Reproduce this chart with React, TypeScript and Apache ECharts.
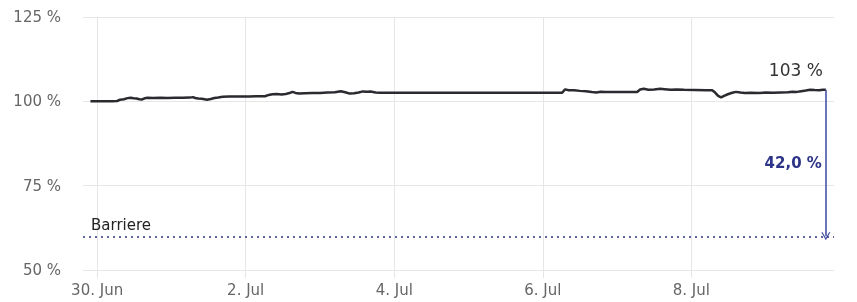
import React, { useEffect, useRef } from "react";
import * as echarts from "echarts";

// days since 30 Jun 00:00
const days = [-0.09, 0.0, 0.1, 0.2, 0.27, 0.31, 0.36, 0.41, 0.45, 0.49, 0.53, 0.57, 0.6, 0.64, 0.68, 0.75, 0.85, 0.95, 1.05, 1.15, 1.25, 1.29, 1.32, 1.36, 1.41, 1.48, 1.53, 1.58, 1.63, 1.69, 1.78, 1.9, 2.05, 2.2, 2.26, 2.31, 2.36, 2.42, 2.48, 2.54, 2.59, 2.63, 2.67, 2.72, 2.8, 2.9, 3.0, 3.1, 3.2, 3.28, 3.34, 3.4, 3.46, 3.52, 3.58, 3.63, 3.68, 3.75, 3.81, 6.26, 6.3, 6.35, 6.42, 6.5, 6.58, 6.66, 6.72, 6.78, 6.84, 6.95, 7.1, 7.27, 7.31, 7.36, 7.42, 7.5, 7.58, 7.64, 7.72, 7.8, 7.9, 8.05, 8.2, 8.28, 8.32, 8.36, 8.4, 8.44, 8.49, 8.55, 8.6, 8.66, 8.72, 8.8, 8.9, 9.0, 9.1, 9.2, 9.3, 9.36, 9.42, 9.48, 9.54, 9.6, 9.66, 9.72, 9.77, 9.81];
const values = [100.0, 100.0, 100.05, 100.05, 100.1, 100.5, 100.6, 100.95, 101.05, 100.9, 100.85, 100.6, 100.55, 100.9, 101.05, 101.0, 101.05, 101.0, 101.05, 101.05, 101.1, 101.25, 101.0, 100.85, 100.75, 100.45, 100.7, 101.0, 101.15, 101.35, 101.4, 101.45, 101.45, 101.5, 101.5, 101.9, 102.1, 102.15, 102.05, 102.2, 102.45, 102.8, 102.5, 102.35, 102.4, 102.45, 102.5, 102.6, 102.7, 103.0, 102.7, 102.3, 102.4, 102.6, 102.95, 102.85, 102.9, 102.65, 102.55, 102.55, 103.55, 103.3, 103.25, 103.1, 103.0, 102.75, 102.6, 102.85, 102.8, 102.8, 102.75, 102.75, 103.5, 103.75, 103.45, 103.5, 103.7, 103.6, 103.45, 103.5, 103.4, 103.35, 103.3, 103.3, 102.6, 101.6, 101.15, 101.6, 102.1, 102.55, 102.8, 102.6, 102.5, 102.55, 102.5, 102.6, 102.55, 102.65, 102.7, 102.85, 102.8, 103.0, 103.2, 103.45, 103.35, 103.3, 103.45, 103.4];

const barrier = 60;
const xTickValues = [0, 2, 4, 6, 8];
const xTickLabels = ["30. Jun", "2. Jul", "4. Jul", "6. Jul", "8. Jul"];
const yMin = 50;
const yMax = 125;
const yStep = 25;
const xMin = -0.19;
const xMax = 9.92;

export default function App() {
  const ref = useRef<HTMLDivElement>(null);
  useEffect(() => {
    if (!ref.current) return;
    const chart = echarts.init(ref.current, undefined, { renderer: "svg" });
    const lastX = days[days.length - 1];
    const lastV = values[values.length - 1];
    const dist = ((lastV - barrier) / lastV) * 100;
    const distLabel = dist.toFixed(1).replace(".", ",") + " %";
    const font = "DejaVu Sans";
    const blue = "#2d3488";
    chart.setOption({
      animation: false,
      textStyle: { fontFamily: font },
      grid: { left: 83, right: 23, top: 17, bottom: 32 },
      xAxis: {
        type: "value",
        min: xMin,
        max: xMax,
        axisLine: { show: false },
        axisTick: {
          show: true,
          length: 8,
          customValues: xTickValues,
          lineStyle: { color: "#e6e6e6" },
        },
        axisLabel: {
          customValues: xTickValues,
          color: "#666",
          fontSize: 15,
          margin: 12,
          formatter: (v: number) => {
            const i = xTickValues.indexOf(Math.round(v));
            return i >= 0 ? xTickLabels[i] : "";
          },
        },
        splitLine: { show: true, lineStyle: { color: "#e6e6e6" } },
      },
      yAxis: {
        type: "value",
        min: yMin,
        max: yMax,
        interval: yStep,
        axisLine: { show: false },
        axisTick: { show: false },
        axisLabel: {
          color: "#666",
          fontSize: 15,
          margin: 22,
          formatter: "{value} %",
        },
        splitLine: { lineStyle: { color: "#e6e6e6" } },
      },
      series: [
        {
          type: "line",
          data: days.map((d, i) => [d, values[i]]),
          showSymbol: false,
          symbol: "none",
          lineStyle: { color: "#2a2a2f", width: 2.5 },
          z: 3,
          markLine: {
            silent: true,
            symbol: ["none", "path://M0,10 L5,0 L10,10 L8.6,10 L5,2.8 L1.4,10 Z"],
            symbolSize: [9, 8],
            symbolOffset: [0, 0],
            lineStyle: { color: "#3a48a0", width: 1.5, type: "solid" },
            label: { show: false },
            data: [
              [
                { coord: [lastX, lastV] },
                { coord: [lastX, barrier] },
              ],
            ],
          },
          markPoint: {
            silent: true,
            symbol: "circle",
            symbolSize: 0,
            data: [
              {
                coord: [lastX, lastV],
                label: {
                  show: true,
                  formatter: Math.round(lastV) + " %",
                  color: "#333",
                  fontSize: 17,
                  fontFamily: font,
                  position: "inside",
                  align: "right",
                  verticalAlign: "middle",
                  offset: [-3, -20],
                },
              },
              {
                coord: [lastX, (lastV + barrier) / 2],
                label: {
                  show: true,
                  formatter: distLabel,
                  color: blue,
                  fontSize: 15,
                  fontWeight: "bold",
                  fontFamily: font,
                  position: "inside",
                  align: "right",
                  verticalAlign: "middle",
                  offset: [-4, 0],
                },
              },
            ],
          },
        },
        {
          type: "line",
          data: [],
          markLine: {
            silent: true,
            symbol: ["none", "none"],
            lineStyle: { color: blue, width: 1.5, type: [2, 4] },
            label: {
              show: true,
              position: "insideStartTop",
              formatter: "Barriere",
              color: "#222",
              fontSize: 15,
              fontFamily: font,
              distance: [8, 4],
            },
            data: [{ yAxis: barrier }],
          },
        },
      ],
    });
    return () => chart.dispose();
  }, []);
  return (
    <div
      ref={ref}
      style={{ position: "fixed", left: 0, top: 0, width: 857, height: 302 }}
    />
  );
}
